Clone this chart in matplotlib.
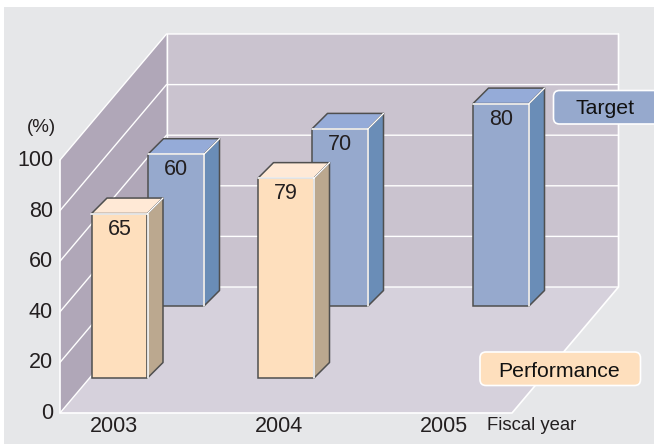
import matplotlib
matplotlib.use('Agg')
import matplotlib.pyplot as plt
from matplotlib.patches import Polygon, Rectangle, FancyBboxPatch
from matplotlib.transforms import Affine2D, IdentityTransform

plt.rcParams['font.family'] = ['Liberation Sans', 'DejaVu Sans']

# Data
years = [2003, 2004, 2005]
performance_years = [2003, 2004]
performance = [65, 79]
target_years = [2003, 2004, 2005]
target = [60, 70, 80]
yticks = [0, 20, 40, 60, 80, 100]

W, H = 654, 445
TEXT = '#231f20'
EDGE = '#4f4f4f'

fig = plt.figure(figsize=(W / 100, H / 100), dpi=100, facecolor='white')
ax = fig.add_axes([60 / W, (H - 413) / H, 452 / W, 253 / H])
ax.patch.set_visible(False)
for s in ax.spines.values():
	s.set_visible(False)

# 165 px per year, 2003 sits at x=113 px
ax.set_xlim(2003 - 53 / 165, 2003 + 399 / 165)
ax.set_ylim(0, 100)
ident = IdentityTransform()

def top_px(y):
	# pixel row counted from the top of the image
	return H - y

def px(year, value):
	return ax.transData.transform((year, value))

def poly(pts, color, z, edge='none', lw=0):
	ax.add_patch(Polygon(pts, closed=True, facecolor=color, edgecolor=edge, linewidth=lw,
		transform=ident, clip_on=False, zorder=z, joinstyle='round'))

def line(pts, color, z, lw=1.0):
	ax.plot([p[0] for p in pts], [p[1] for p in pts], color=color, lw=lw,
		transform=ident, clip_on=False, zorder=z, solid_capstyle='round')

# Outer panel
ax.add_patch(Rectangle((4, top_px(444)), 651, 437, facecolor='#e6e7e9', edgecolor='none',
	transform=ident, clip_on=False, zorder=0))

# Walls and floor
DEPTH_X, DEPTH_Y = 106.5, 126
x0 = ax.get_xlim()[0]
x1 = ax.get_xlim()[1]

def back(p):
	return (p[0] + DEPTH_X, p[1] + DEPTH_Y)

p00 = px(x0, 0)
p10 = px(x1, 0)
p01 = px(x0, 100)
p11 = px(x1, 100)
poly([p00, p01, back(p01), back(p00)], '#b0a7b8', 1)
poly([back(p00), back(p10), back(p11), back(p01)], '#cac3cf', 1)
poly([p00, p10, back(p10), back(p00)], '#d6d1dc', 1)

for v in yticks[1:]:
	a = px(x0, v)
	b = px(x1, v)
	line([a, back(a), back(b)], 'white', 2)
line([p01, p00, p10, back(p10), back(p11)], 'white', 2, 1.2)
line([p00, back(p00), back(p10)], 'white', 2)
line([back(p00), back(p01)], 'white', 2)

# Bars
BAR_W = 56 / 165
BAR_DX, BAR_DY = 15.5, 15.5

def draw_bar(year, value, xoff, yoff, front, top, side, z):
	tr = ax.transData + Affine2D().translate(xoff, yoff)
	ax.bar(year, value, BAR_W, color=front, edgecolor=EDGE, linewidth=1.1, transform=tr,
		zorder=z, clip_on=False)
	br = tr.transform((year + BAR_W / 2, 0))
	tl = tr.transform((year - BAR_W / 2, value))
	t_r = tr.transform((year + BAR_W / 2, value))
	d = lambda p: (p[0] + BAR_DX, p[1] + BAR_DY)
	poly([tl, t_r, d(t_r), d(tl)], top, z + 0.1, EDGE, 1.1)
	poly([br, t_r, d(t_r), d(br)], side, z + 0.1, EDGE, 1.1)
	line([tl, t_r, br], 'white', z + 0.2, 1.2)
	line([t_r, d(t_r)], 'white', z + 0.2, 1.0)
	lab = tr + Affine2D().translate(0, -15.5)
	ax.text(year, value, str(value), transform=lab, ha='center', va='center',
		fontsize=15.5, color=TEXT, zorder=z + 0.3, clip_on=False)

# Horizontal shift of each bar from its tick, and its lift off the front edge
target_xoff = [63, 62, 58]
performance_xoff = [6.5, 8]
for y, v, xo in zip(target_years, target, target_xoff):
	draw_bar(y, v, xo, 107, '#96a9cd', '#95abd8', '#6a8db7', 3)
# bars in front overlap the ones behind
for y, v, xo in zip(performance_years, performance, performance_xoff):
	draw_bar(y, v, xo, 35, '#fedfbd', '#ffe9d6', '#bba88f', 4)

# Axis labels
ax.set_xticks(years)
ax.set_xticklabels([str(y) for y in years])
ax.set_yticks(yticks)
ax.tick_params(axis='both', length=0, labelsize=15.5, labelcolor=TEXT)
ax.tick_params(axis='x', pad=3)
ax.tick_params(axis='y', pad=5)
for lab in ax.get_yticklabels():
	lab.set_transform(lab.get_transform() + Affine2D().translate(0, 2))
for lab in ax.get_xticklabels():
	lab.set_transform(lab.get_transform() + Affine2D().translate(0.7, 1))

ax.text(41, top_px(128), '(%)', transform=ident, ha='center', va='center', fontsize=13.5, color=TEXT)
ax.text(487, top_px(426), 'Fiscal year', transform=ident, ha='left', va='center', fontsize=13.3, color=TEXT)

# Legend chips
def chip(xa, xb, ya, yb, color, label, xt, dy):
	r = 6
	ax.add_patch(FancyBboxPatch((xa + r, top_px(yb) + r), xb - xa - 2 * r, yb - ya - 2 * r,
		boxstyle=f'round,pad={r},rounding_size={r}', facecolor=color, edgecolor='white', linewidth=1.2,
		transform=ident, clip_on=False, zorder=5))
	ax.text(xt, top_px((ya + yb) / 2 + dy), label, transform=ident, ha='center', va='center',
		fontsize=15.3, color='#111111', zorder=6)

chip(553.5, 660, 90.5, 124, '#96a9cd', 'Target', 605.5, 1.5)
chip(480, 640.5, 352, 385.5, '#fedfbd', 'Performance', 559.5, 2.5)

fig.savefig('out.png', dpi=100)
